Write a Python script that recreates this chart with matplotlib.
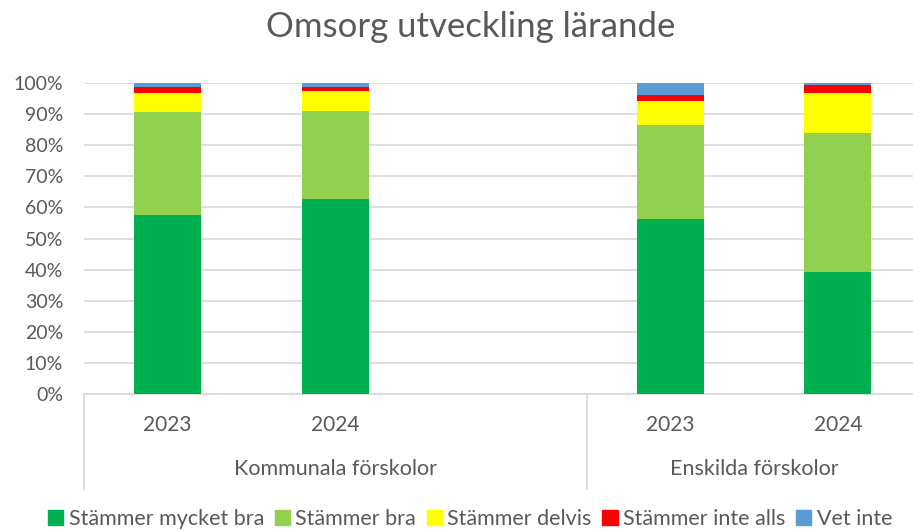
import numpy as np
import matplotlib.pyplot as plt
from matplotlib.patches import Patch

# data (percent)
groups = ["Kommunala förskolor", "Enskilda förskolor"]
years = ["2023", "2024", "2023", "2024"]
positions = [0, 1, 3, 4]          # slot 2 is an empty category in the first group
series = ["Stämmer mycket bra", "Stämmer bra", "Stämmer delvis", "Stämmer inte alls", "Vet inte"]
mycket_bra = [57.5, 62.7, 56.3, 39.2]
bra = [33.2, 28.4, 30.2, 44.8]
delvis = [6.2, 6.2, 7.7, 12.7]
inte_alls = [1.8, 1.3, 2.0, 2.7]
vet_inte = [1.3, 1.4, 3.8, 0.6]
colors = ["#00B050", "#92D050", "#FFFF00", "#FF0000", "#5B9BD5"]

plt.rcParams['font.family'] = ['Lato', 'DejaVu Sans']
txt = "#595959"

fig = plt.figure(figsize=(9.13, 5.32), dpi=100)
ax = fig.add_axes([84/913, 138/532, 837.5/913, 311/532])

bottom = np.zeros(4)
for vals, c, name in zip([mycket_bra, bra, delvis, inte_alls, vet_inte], colors, series):
    ax.bar(positions, vals, bottom=bottom, width=0.4, color=c, label=name, zorder=3)
    bottom += np.array(vals)

ax.set_xlim(-0.5, 4.5)
ax.set_ylim(0, 100)
ax.set_yticks(np.arange(0, 101, 10))
ax.set_yticklabels([f"{v}%" for v in range(0, 101, 10)], color=txt, fontsize=14)
ax.tick_params(axis='y', length=0, pad=15)
ax.set_xticks([])
ax.yaxis.grid(True, color="#d9d9d9", linewidth=1.2, zorder=0)
for s in ["left", "right", "top"]:
    ax.spines[s].set_visible(False)
ax.spines["bottom"].set_color("#d9d9d9")
ax.spines["bottom"].set_linewidth(1.2)

# multi-level category axis
tr = ax.get_xaxis_transform()
for xv in [-0.5, 2.5, 4.5]:
    ax.plot([xv, xv], [0, -0.305], color="#d9d9d9", lw=1.2, transform=tr, clip_on=False)
for p, y in zip(positions, years):
    ax.text(p, -0.1, y, transform=tr, ha="center", va="center", color=txt, fontsize=15)
ax.text(1.0, -0.241, groups[0], transform=tr, ha="center", va="center", color=txt, fontsize=15.5)
ax.text(3.5, -0.241, groups[1], transform=tr, ha="center", va="center", color=txt, fontsize=15.5)

fig.suptitle("Omsorg utveckling lärande", x=0.515, y=0.98, fontsize=25, color=txt)

handles = [Patch(color=c) for c in colors]
fig.legend(handles, series, loc="center", bbox_to_anchor=(0.515, 0.025), ncol=5, frameon=False,
           fontsize=15.5, handlelength=0.7, handleheight=0.7, handletextpad=0.25,
           columnspacing=0.5, labelcolor=txt)

fig.savefig("out.png", dpi=100)
